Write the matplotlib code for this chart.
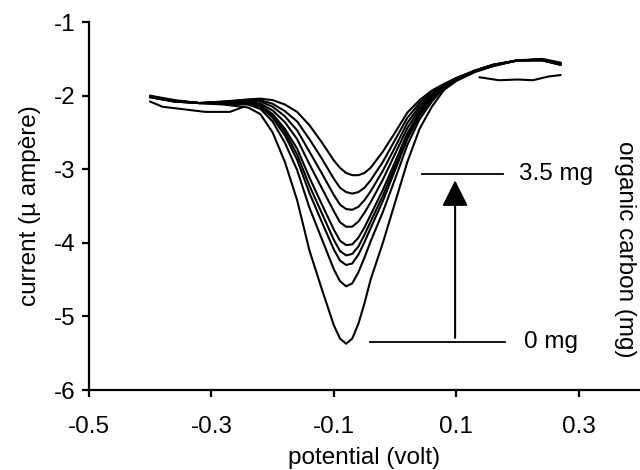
"""
Voltammograms: current vs potential for increasing organic carbon (0 to 3.5 mg).
"""
import matplotlib
matplotlib.use("Agg")
import matplotlib.pyplot as plt

# potential grid (volt), forward scan
potential = [-0.40, -0.36, -0.32, -0.28, -0.24, -0.22, -0.20, -0.18, -0.16, -0.14,
             -0.12, -0.10, -0.09, -0.08, -0.07, -0.06, -0.05, -0.04, -0.02, 0.00,
             0.02, 0.04, 0.06, 0.08, 0.10, 0.13, 0.16, 0.20, 0.24, 0.27]

# current (micro ampere), deepest peak = 0 mg, shallowest = 3.5 mg
current_0mg = [-2.00, -2.06, -2.10, -2.12, -2.16, -2.25, -2.50, -2.90, -3.42, -4.10,
               -4.62, -5.12, -5.30, -5.37, -5.30, -5.10, -4.82, -4.50, -4.00, -3.45,
               -2.90, -2.45, -2.15, -1.92, -1.80, -1.68, -1.60, -1.52, -1.50, -1.55]
current_c1 = [-2.01, -2.07, -2.10, -2.11, -2.12, -2.18, -2.35, -2.64, -3.01, -3.52,
              -3.94, -4.36, -4.52, -4.59, -4.55, -4.40, -4.20, -3.98, -3.58, -3.13,
              -2.67, -2.32, -2.08, -1.89, -1.79, -1.67, -1.59, -1.52, -1.51, -1.56]
current_c2 = [-2.01, -2.07, -2.10, -2.10, -2.11, -2.15, -2.30, -2.54, -2.87, -3.32,
              -3.71, -4.09, -4.24, -4.30, -4.28, -4.16, -3.99, -3.80, -3.43, -3.01,
              -2.59, -2.27, -2.05, -1.88, -1.78, -1.67, -1.59, -1.52, -1.51, -1.56]
current_c3 = [-2.01, -2.07, -2.10, -2.10, -2.10, -2.14, -2.27, -2.49, -2.80, -3.22,
              -3.59, -3.96, -4.11, -4.17, -4.15, -4.05, -3.89, -3.71, -3.36, -2.96,
              -2.55, -2.25, -2.04, -1.88, -1.78, -1.67, -1.59, -1.52, -1.51, -1.57]
current_c4 = [-2.01, -2.07, -2.10, -2.10, -2.10, -2.13, -2.25, -2.45, -2.72, -3.11,
              -3.47, -3.82, -3.97, -4.03, -4.02, -3.93, -3.79, -3.62, -3.28, -2.90,
              -2.51, -2.22, -2.02, -1.87, -1.78, -1.67, -1.59, -1.52, -1.51, -1.57]
current_c5 = [-2.01, -2.07, -2.10, -2.09, -2.08, -2.11, -2.20, -2.36, -2.59, -2.93,
              -3.25, -3.57, -3.72, -3.78, -3.78, -3.71, -3.59, -3.45, -3.14, -2.79,
              -2.44, -2.18, -2.00, -1.87, -1.77, -1.67, -1.59, -1.52, -1.51, -1.57]
current_c6 = [-2.02, -2.08, -2.10, -2.09, -2.07, -2.08, -2.15, -2.28, -2.47, -2.76,
              -3.05, -3.35, -3.48, -3.54, -3.55, -3.51, -3.42, -3.30, -3.02, -2.70,
              -2.37, -2.14, -1.98, -1.86, -1.77, -1.66, -1.58, -1.52, -1.52, -1.57]
current_c7 = [-2.02, -2.08, -2.10, -2.08, -2.06, -2.06, -2.11, -2.21, -2.35, -2.59,
              -2.85, -3.13, -3.25, -3.31, -3.33, -3.31, -3.25, -3.15, -2.90, -2.60,
              -2.30, -2.10, -1.95, -1.85, -1.76, -1.66, -1.58, -1.52, -1.52, -1.58]
current_35mg = [-2.02, -2.08, -2.10, -2.08, -2.05, -2.04, -2.06, -2.12, -2.22, -2.40,
                -2.63, -2.88, -2.98, -3.05, -3.08, -3.08, -3.05, -2.98, -2.76, -2.50,
                -2.23, -2.06, -1.93, -1.84, -1.76, -1.66, -1.58, -1.52, -1.52, -1.58]

# return-scan fragments at both ends
return_right_x = [0.27, 0.25, 0.225, 0.20, 0.17, 0.138]
return_right_y = [-1.72, -1.74, -1.79, -1.78, -1.79, -1.75]
return_left_x = [-0.25, -0.27, -0.31, -0.34, -0.38, -0.40]
return_left_y = [-2.16, -2.22, -2.22, -2.19, -2.15, -2.08]

curves = [current_0mg, current_c1, current_c2, current_c3, current_c4,
          current_c5, current_c6, current_c7, current_35mg]

plt.rcParams["font.family"] = ["Liberation Sans", "DejaVu Sans"]
plt.rcParams["axes.unicode_minus"] = False
FS = 17.5

fig = plt.figure(figsize=(6.4, 4.7), dpi=100)
ax = fig.add_axes([0.139, 0.170, 0.861, 0.783])

for cur in curves:
    ax.plot(potential, cur, color="black", lw=1.5)
ax.plot(return_right_x, return_right_y, color="black", lw=1.5)
ax.plot(return_left_x, return_left_y, color="black", lw=1.5)

# markers for 0 mg / 3.5 mg and the arrow between them
ax.plot([0.044, 0.176], [-3.07, -3.07], color="black", lw=1.3)
ax.plot([-0.041, 0.179], [-5.35, -5.35], color="black", lw=1.3)
ax.annotate("", xy=(0.098, -3.15), xytext=(0.098, -5.29),
            arrowprops=dict(arrowstyle="-|>,head_width=0.5,head_length=1.0",
                            mutation_scale=16, color="black", lw=1.5,
                            shrinkA=0, shrinkB=0))
ax.text(0.202, -3.07, "3.5 mg", fontsize=FS, va="center", ha="left")
ax.text(0.210, -5.35, "0 mg", fontsize=FS, va="center", ha="left")
fig.text(0.977, 0.47, "organic carbon (mg)", fontsize=FS, rotation=270,
         va="center", ha="center")

ax.set_xlim(-0.5, 0.4)
ax.set_ylim(-6, -1)
ax.set_xticks([-0.5, -0.3, -0.1, 0.1, 0.3])
ax.set_xticklabels(["-0.5", "-0.3", "-0.1", "0.1", "0.3"])
ax.set_yticks([-6, -5, -4, -3, -2, -1])
ax.spines["top"].set_visible(False)
ax.spines["right"].set_visible(False)
ax.spines["left"].set_linewidth(1.6)
ax.spines["bottom"].set_linewidth(1.6)
ax.tick_params(axis="both", direction="out", width=1.6, labelsize=FS)
ax.tick_params(axis="y", length=5, pad=5)
ax.tick_params(axis="x", length=5, pad=14)
ax.set_xlabel("potential (volt)", fontsize=FS, labelpad=6)
ax.set_ylabel("current (µ ampère)", fontsize=FS, labelpad=9)

fig.savefig("out.png", dpi=100)
